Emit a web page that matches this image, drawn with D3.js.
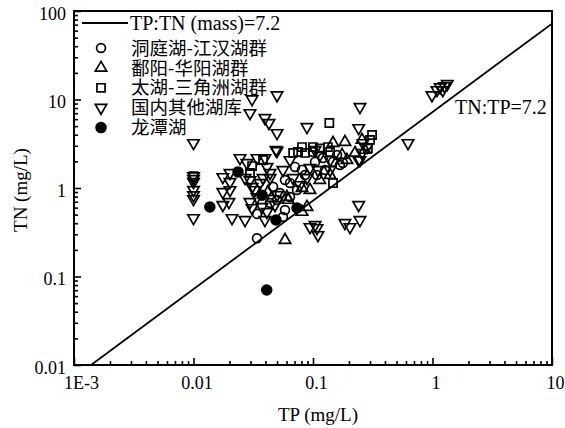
<!DOCTYPE html>
<html><head><meta charset="utf-8">
<script src="https://cdn.jsdelivr.net/npm/d3@7"></script>
<style>
body{margin:0;background:#fff}
text{fill:#000}
.serif{font-family:"Liberation Serif","Times New Roman",Times,serif}
.cjk{font-family:"Noto Sans CJK SC","Noto Sans",sans-serif}
</style>
</head><body>
<svg id="c" width="565" height="428"></svg>
<script>
// ---- data ----
const xTickValues = [0.001, 0.01, 0.1, 1, 10];
const xTickLabels = ["1E-3", "0.01", "0.1", "1", "10"];
const yTickValues = [0.01, 0.1, 1, 10, 100];
const yTickLabels = ["0.01", "0.1", "1", "10", "100"];
const ratio = 7.2;
const lineLegend = "TP:TN (mass)=7.2";
const lineLabel = "TN:TP=7.2";
const seriesNames = ["洞庭湖-江汉湖群", "鄱阳-华阳湖群", "太湖-三角洲湖群", "国内其他湖库", "龙潭湖"];

const dongtingTP = [0.034,0.034,0.0437,0.0707,0.0809,0.104,0.178,0.168,0.159,0.0583,0.0529,0.0463,0.050,0.0583,0.0642,0.0735,0.056,0.121,0.147,0.100,0.108,0.126,0.0642,0.0857];
const dongtingTN = [0.27,0.51,0.677,1.73,1.60,1.97,1.92,1.82,2.36,1.23,0.878,1.03,0.732,0.564,1.14,0.949,0.47,2.18,1.97,2.55,1.40,1.60,0.791,1.40];

const poyangTP = [0.185,0.257,0.147,0.225,0.114,0.0944,0.0809,0.0605,0.062,0.089,0.0809,0.0583,0.175,0.042,0.045,0.139,0.192,0.272];
const poyangTN = [3.30,3.49,3.22,2.49,1.23,0.949,1.00,0.791,0.732,0.61,0.536,0.258,2.36,0.90,0.77,1.40,2.07,2.69];

const taihuTP = [0.137,0.312,0.0682,0.0809,0.0857,0.133,0.139,0.147,0.30,0.288,0.10,0.0309,0.0297,0.0382,0.075,0.01,0.114];
const taihuTN = [5.43,3.97,2.49,2.90,2.49,2.90,2.55,1.14,3.49,2.80,2.90,1.77,1.48,2.07,2.55,1.36,2.80];

const otherTP = [0.01,0.01,0.01,0.01,0.01,0.01,0.01,0.01,
  0.0176,0.0202,0.0202,0.0176,0.0202,0.0176,0.0198,0.021,0.027,
  0.0245,0.028,0.0297,0.0309,0.034,0.0396,0.0412,0.0437,0.036,0.0382,
  0.0297,0.0309,0.0374,0.0412,0.0396,0.049,0.050,0.0481,
  0.0297,0.0396,0.0428,0.0309,0.050,0.050,0.089,0.050,0.247,0.241,0.624,
  0.99,1.09,1.16,1.26,1.33,1.22,
  0.104,0.139,0.241,0.0944,0.089,0.056,0.0682,0.0437,0.241,0.110,
  0.0944,0.104,0.108,0.110,0.185,0.204,0.247,
  0.262,0.284,0.257,0.247,0.139,0.0642,0.114,0.0778,0.027,0.0327,0.034];
const otherTN = [3.22,1.36,1.27,1.17,0.95,0.83,0.75,0.458,
  1.33,1.48,1.17,0.901,0.949,0.643,0.695,0.458,0.435,
  2.18,1.92,1.23,1.03,2.18,2.18,1.73,1.48,1.14,1.30,
  0.695,0.594,0.61,0.536,0.435,2.69,0.834,0.643,
  7.03,6.18,5.43,10.1,11.2,4.18,4.89,2.62,8.23,4.76,3.22,
  11.2,12.8,13.8,14.2,15.0,12.8,
  2.69,2.07,2.07,1.69,1.30,1.60,1.30,1.30,0.643,1.60,
  0.362,0.382,0.353,0.294,0.403,0.362,0.435,
  3.22,2.90,2.49,2.07,1.60,2.07,2.36,1.08,1.30,0.949,0.79];

const longtanTP = [0.0137,0.049,0.0735,0.041,0.0236,0.0374];
const longtanTN = [0.61,0.435,0.594,0.0704,1.52,0.83];

// ---- chart ----
const W = 565, H = 428;
const P = {l: 74, r: 552, t: 11, b: 365};
const svg = d3.select("#c");
svg.append("rect").attr("width", W).attr("height", H).attr("fill", "#fff");

const x = d3.scaleLog().domain([1e-3, 10]).range([P.l, P.r]);
const y = d3.scaleLog().domain([0.01, 100]).range([P.b, P.t]);

const isMajor = v => Math.abs(Math.log10(v) - Math.round(Math.log10(v))) < 1e-9;

// minor ticks (inward)
svg.append("g").attr("transform", `translate(0,${P.b})`)
  .call(d3.axisBottom(x).tickValues(x.ticks().filter(v => !isMajor(v))).tickSizeInner(-4).tickSizeOuter(0).tickFormat(""))
  .call(g => g.select(".domain").remove())
  .call(g => g.selectAll("line").attr("stroke-width", 1.6));
svg.append("g").attr("transform", `translate(${P.l},0)`)
  .call(d3.axisLeft(y).tickValues(y.ticks().filter(v => !isMajor(v))).tickSizeInner(-4).tickSizeOuter(0).tickFormat(""))
  .call(g => g.select(".domain").remove())
  .call(g => g.selectAll("line").attr("stroke-width", 1.6));

// major ticks + labels
const gx = svg.append("g").attr("transform", `translate(0,${P.b})`)
  .call(d3.axisBottom(x).tickValues(xTickValues).tickFormat((d, i) => xTickLabels[i]).tickSizeInner(-7).tickSizeOuter(0).tickPadding(11));
gx.attr("font-family", null).attr("font-size", null);
gx.select(".domain").remove();
gx.selectAll("line").attr("stroke-width", 1.6);
gx.selectAll("text").attr("class", "serif").style("font-size", "18px")
  .attr("dx", (d, i) => i === 0 ? 7 : 3);

const gy = svg.append("g").attr("transform", `translate(${P.l},0)`)
  .call(d3.axisLeft(y).tickValues(yTickValues).tickFormat((d, i) => yTickLabels[i]).tickSizeInner(-7).tickSizeOuter(0).tickPadding(8));
gy.attr("font-family", null).attr("font-size", null);
gy.select(".domain").remove();
gy.selectAll("line").attr("stroke-width", 1.6);
gy.selectAll("text").attr("class", "serif").style("font-size", "18px").attr("dy", "0.45em");

// frame
svg.append("rect").attr("x", P.l).attr("y", P.t).attr("width", P.r - P.l).attr("height", P.b - P.t)
  .attr("fill", "none").attr("stroke", "#000").attr("stroke-width", 2);

// clip
svg.append("clipPath").attr("id", "clip").append("rect")
  .attr("x", P.l).attr("y", P.t).attr("width", P.r - P.l).attr("height", P.b - P.t);

// ratio line TN = 7.2 TP
const lineTP = [0.01 / ratio, 10];
svg.append("path").attr("clip-path", "url(#clip)")
  .attr("d", d3.line().x(d => x(d)).y(d => y(d * ratio))(lineTP))
  .attr("stroke", "#000").attr("stroke-width", 1.8).attr("fill", "none");

// markers
const sym = {
  circle: d3.symbol().type(d3.symbolCircle).size(62)(),
  up: d3.symbol().type(d3.symbolTriangle).size(56)(),
  square: d3.symbol().type(d3.symbolSquare).size(66)(),
  dot: d3.symbol().type(d3.symbolCircle).size(76)()
};
const series = [
  {tp: dongtingTP, tn: dongtingTN, shape: "circle", rot: 0, fill: "none"},
  {tp: poyangTP, tn: poyangTN, shape: "up", rot: 0, fill: "none"},
  {tp: taihuTP, tn: taihuTN, shape: "square", rot: 0, fill: "none"},
  {tp: otherTP, tn: otherTN, shape: "up", rot: 180, fill: "none"},
  {tp: longtanTP, tn: longtanTN, shape: "dot", rot: 0, fill: "#000"}
];
const drawOrder = [3, 2, 1, 0, 4];
drawOrder.forEach(si => {
  const s = series[si];
  svg.append("g").selectAll("path").data(s.tp.map((v, i) => [v, s.tn[i]])).join("path")
    .attr("d", sym[s.shape])
    .attr("transform", d => `translate(${x(d[0])},${y(d[1])}) rotate(${s.rot})`)
    .attr("fill", s.fill).attr("stroke", "#000").attr("stroke-width", 1.7);
});

// legend
const lg = svg.append("g");
lg.append("line").attr("x1", 82).attr("x2", 128).attr("y1", 23).attr("y2", 23).attr("stroke", "#000").attr("stroke-width", 1.8);
lg.append("text").attr("class", "serif").attr("x", 130).attr("y", 29.5).style("font-size", "20px").text(lineLegend);
seriesNames.forEach((name, i) => {
  const yy = 48 + i * 19.9;
  const s = series[i];
  lg.append("path").attr("d", sym[s.shape]).attr("transform", `translate(101,${yy}) rotate(${s.rot})`)
    .attr("fill", s.fill).attr("stroke", "#000").attr("stroke-width", 1.7);
  lg.append("text").attr("class", "cjk").attr("x", 131).attr("y", yy).attr("dy", "0.36em")
    .style("font-size", "18.5px").text(name);
});

// line label
svg.append("text").attr("class", "serif").attr("x", 455).attr("y", 114).style("font-size", "20px").text(lineLabel);

// axis titles
svg.append("text").attr("class", "serif").attr("x", 318).attr("y", 421).attr("text-anchor", "middle")
  .style("font-size", "19px").text("TP (mg/L)");
svg.append("text").attr("class", "serif").attr("transform", "translate(27,190) rotate(-90)").attr("text-anchor", "middle")
  .style("font-size", "19px").text("TN (mg/L)");
</script>
</body></html>
